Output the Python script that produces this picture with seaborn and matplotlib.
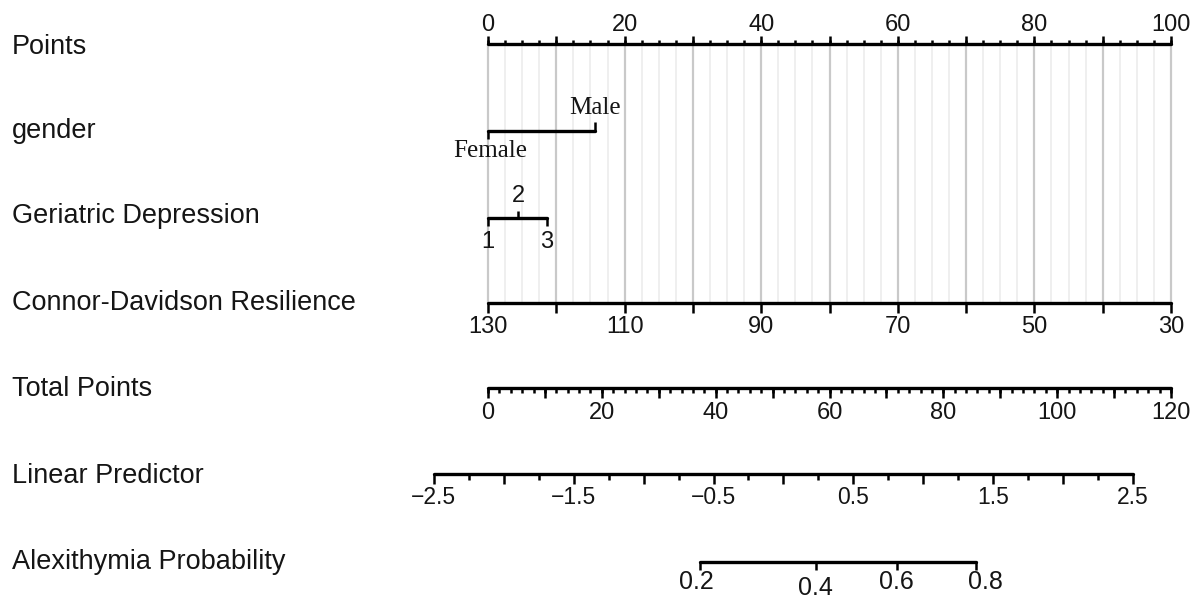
import numpy as np
import pandas as pd
import matplotlib
matplotlib.use("Agg")
import matplotlib.pyplot as plt
import seaborn as sns

# ---------------- data ----------------
row_labels = ["Points", "gender", "Geriatric Depression", "Connor-Davidson Resilience",
              "Total Points", "Linear Predictor", "Alexithymia Probability"]

points_labels = [0, 20, 40, 60, 80, 100]

gender_levels = ["Female", "Male"]
gender_points = [0.0, 15.7]

gd_levels = ["1", "2", "3"]
gd_points = [0.0, 4.4, 8.6]

cd_values = [130, 120, 110, 100, 90, 80, 70, 60, 50, 40, 30]
cd_points = [0, 10, 20, 30, 40, 50, 60, 70, 80, 90, 100]
cd_labels = [130, 110, 90, 70, 50, 30]

total_max = 120
total_labels = [0, 20, 40, 60, 80, 100, 120]

lp_labels = [-2.5, -1.5, -0.5, 0.5, 1.5, 2.5]
lp_range = [-2.5, 2.5]
lp_total_at_range = [-9.5, 113.3]   # total points where LP = -2.5 and 2.5

prob_labels = [0.2, 0.4, 0.6, 0.8]
prob_total_points = [37.2, 57.6, 71.9, 85.7]

# ---------------- layout ----------------
W, H = 1199, 601
PX0, PX100 = 488, 1171
SCALE = (PX100 - PX0) / 100.0

def px2pt(px):
    return (px - PX0) / SCALE

def tp2pt(tp):
    return np.asarray(tp, dtype=float) * 100.0 / total_max

def lp2tp(lp):
    a, b = lp_total_at_range
    return a + (np.asarray(lp, dtype=float) - lp_range[0]) * (b - a) / (lp_range[1] - lp_range[0])

sns.set_theme(style="white")
plt.rcParams["font.family"] = ["Liberation Sans", "DejaVu Sans"]

fig = plt.figure(figsize=(W / 100, H / 100), dpi=100)
ax = fig.add_axes([0, 0, 1, 1])

TXT = "#151515"
LW = 2.4
TW = 1.8
FS_ROW = 19.5
FS_PTS = 17
FS_CD = 17
FS_TICK = 17
FS_LP = 16.5
FS_PROB = 18
FS_SERIF = 18

y_rows = [47, 131, 216, 303, 389, 476, 562]
y_lines = [44, 131, 218, 303, 388, 474, 562]

for lab, y in zip(row_labels, y_rows):
    ax.text(px2pt(12), y, lab, ha="left", va="center", fontsize=FS_ROW, color=TXT)

# grid lines (from Points axis down to Connor-Davidson axis)
minor = [v for v in np.arange(0, 100.01, 2.5) if abs(v / 10 - round(v / 10)) > 1e-6]
ax.vlines(minor, y_lines[0], y_lines[3], color="#ececec", lw=1.2, zorder=1)
ax.vlines(np.arange(0, 100.01, 10), y_lines[0], y_lines[3], color="#c9c9c9", lw=1.6, zorder=1)

# base lines via seaborn
seg = pd.DataFrame({
    "row": ["pts", "pts", "gen", "gen", "gd", "gd", "cd", "cd", "tot", "tot", "lp", "lp", "pr", "pr"],
    "x": [0, 100, gender_points[0], gender_points[-1], gd_points[0], gd_points[-1],
          cd_points[0], cd_points[-1], float(tp2pt(0)), float(tp2pt(total_max)),
          float(tp2pt(lp2tp(lp_range[0]))), float(tp2pt(lp2tp(lp_range[1]))),
          float(tp2pt(prob_total_points[0])), float(tp2pt(prob_total_points[-1]))],
    "y": [y_lines[0]] * 2 + [y_lines[1]] * 2 + [y_lines[2]] * 2 + [y_lines[3]] * 2
         + [y_lines[4]] * 2 + [y_lines[5]] * 2 + [y_lines[6]] * 2,
})
sns.lineplot(data=seg, x="x", y="y", units="row", estimator=None, color="black",
             lw=LW, ax=ax, legend=False, zorder=3)
ax.set_xlim(px2pt(0), px2pt(W))
ax.set_ylim(H, 0)
ax.axis("off")

# Points axis: ticks up
y = y_lines[0]
ax.vlines(np.arange(0, 100.01, 2.5), y - 4.5, y, color="black", lw=TW, zorder=3)
ax.vlines(np.arange(0, 100.01, 10), y - 8.5, y, color="black", lw=TW, zorder=3)
for v in points_labels:
    ax.text(v, 25, str(v), ha="center", va="center", fontsize=FS_PTS, color=TXT)

# gender
y = y_lines[1]
serif = ["Liberation Serif", "DejaVu Serif"]
ax.vlines(gender_points[0], y, y + 8, color="black", lw=TW, zorder=3)
ax.vlines(gender_points[1], y - 9, y, color="black", lw=TW, zorder=3)
ax.text(gender_points[1], 108, gender_levels[1], ha="center", va="center",
        fontsize=FS_SERIF, family=serif, color=TXT)
ax.text(gender_points[0] + 2 / SCALE, 151, gender_levels[0], ha="center", va="center",
        fontsize=FS_SERIF, family=serif, color=TXT)

# geriatric depression
y = y_lines[2]
for i, (lev, p) in enumerate(zip(gd_levels, gd_points)):
    if i == 1:
        ax.vlines(p, y - 7, y, color="black", lw=TW, zorder=3)
        ax.text(p, 196, lev, ha="center", va="center", fontsize=FS_TICK, color=TXT)
    else:
        ax.vlines(p, y, y + 8, color="black", lw=TW, zorder=3)
        ax.text(p, 242, lev, ha="center", va="center", fontsize=FS_TICK, color=TXT)

# Connor-Davidson
y = y_lines[3]
ax.vlines(cd_points, y, y + 10, color="black", lw=TW, zorder=3)
for v, p in zip(cd_values, cd_points):
    if v in cd_labels:
        ax.text(p, 327, str(v), ha="center", va="center", fontsize=FS_CD, color=TXT)

# Total points
y = y_lines[4]
ax.vlines(tp2pt(np.arange(0, total_max + 0.01, 2)), y, y + 5, color="black", lw=TW, zorder=3)
ax.vlines(tp2pt(np.arange(0, total_max + 0.01, 10)), y, y + 10, color="black", lw=TW, zorder=3)
for v in total_labels:
    ax.text(float(tp2pt(v)), 413, str(v), ha="center", va="center", fontsize=FS_TICK, color=TXT)

# Linear predictor
y = y_lines[5]
lp_all = np.arange(lp_range[0], lp_range[1] + 0.001, 0.25)
for v in lp_all:
    long = abs(v * 2 - round(v * 2)) < 1e-6
    ax.vlines(float(tp2pt(lp2tp(v))), y, y + (10 if long else 6), color="black", lw=TW, zorder=3)
for v in lp_labels:
    s = f"{v:.1f}".replace("-", "\u2212")
    ax.text(float(tp2pt(lp2tp(v))), 497, s, ha="center", va="center", fontsize=FS_LP, color=TXT)

# Probability
y = y_lines[6]
ax.vlines(tp2pt(prob_total_points), y, y + 8, color="black", lw=TW, zorder=3)
dx = {0.2: -3, 0.4: 0, 0.6: -1, 0.8: 10}
dy = {0.2: 582, 0.4: 588, 0.6: 582, 0.8: 582}
for v, t in zip(prob_labels, prob_total_points):
    ax.text(float(tp2pt(t)) + dx[v] / SCALE, dy[v], f"{v:.1f}", ha="center", va="center",
            fontsize=FS_PROB, color=TXT)

fig.savefig("out.png", dpi=100, facecolor="white")
